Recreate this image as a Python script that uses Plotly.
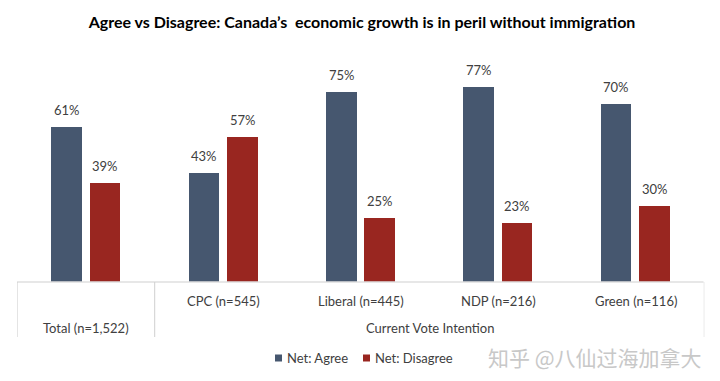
import plotly.graph_objects as go

categories = ["Total (n=1,522)", "CPC (n=545)", "Liberal (n=445)", "NDP (n=216)", "Green (n=116)"]
agree = [61, 43, 75, 77, 70]
disagree = [39, 57, 25, 23, 30]
series_names = ["Net: Agree", "Net: Disagree"]
group_label = "Current Vote Intention"
title_text = "Agree vs Disagree: Canada’s  economic growth is in peril without immigration"
watermark = "知乎 @八仙过海加拿大"

W, H = 720, 381
FONT = "Lato, 'Open Sans', sans-serif"
C_AGREE = "#46576f"
C_DIS = "#992620"
TXT = "#404040"
LINE = "#cfcfcf"

x = list(range(len(categories)))
bw = 0.222
gap = 0.029

fig = go.Figure()
fig.add_trace(go.Bar(x=x, y=agree, name=series_names[0], marker=dict(color=C_AGREE, line=dict(width=0)),
                     width=bw, offset=-gap - bw, hoverinfo="y", showlegend=False))
fig.add_trace(go.Bar(x=x, y=disagree, name=series_names[1], marker=dict(color=C_DIS, line=dict(width=0)),
                     width=bw, offset=gap, hoverinfo="y", showlegend=False))

def py(p):  # pixel from top -> paper y
    return 1 - p / H

def px(p):
    return p / W

x_left, x_right = 17.3, 704.3
base_px, top_px = 281.5, 60.0
px_per = 2.53
ymax = (base_px - top_px) / px_per

annotations = []
for i in x:
    for vals, off in ((agree, -gap - bw / 2), (disagree, gap + bw / 2)):
        annotations.append(dict(x=i + off, y=vals[i], xref="x", yref="y", text=f"{vals[i]}%",
                                showarrow=False, xanchor="center", yanchor="bottom", yshift=7,
                                font=dict(family=FONT, size=13, color=TXT)))
for i, c in enumerate(categories):
    annotations.append(dict(x=i, y=py(328 if i == 0 else 300.5), xref="x", yref="paper", text=c,
                            showarrow=False, xanchor="center", yanchor="middle",
                            font=dict(family=FONT, size=13, color=TXT)))
annotations.append(dict(x=2.5, y=py(328), xref="x", yref="paper", text=group_label, showarrow=False,
                        xanchor="center", yanchor="middle", font=dict(family=FONT, size=13, color=TXT)))
annotations.append(dict(x=px(595), y=py(357), xref="paper", yref="paper", text=watermark, showarrow=False,
                        xanchor="center", yanchor="middle",
                        font=dict(family="'Noto Sans CJK SC', sans-serif", size=21, color="#c8c8c8")))

legend_items = [(series_names[0], C_AGREE, 275), (series_names[1], C_DIS, 363)]
shapes = []
for name, col, lx in legend_items:
    shapes.append(dict(type="rect", xref="paper", yref="paper", x0=px(lx), x1=px(lx + 7),
                       y0=py(361.5), y1=py(354.5), fillcolor=col, line=dict(width=0)))
    annotations.append(dict(x=px(lx + 10), y=py(358), xref="paper", yref="paper", text=name,
                            showarrow=False, xanchor="left", yanchor="middle",
                            font=dict(family=FONT, size=13, color=TXT)))

shapes.append(dict(type="line", xref="paper", yref="paper", x0=px(17), x1=px(703.5), y0=py(282), y1=py(282),
                   line=dict(color=LINE, width=1)))
for xv in (-0.5, 0.5, 4.5):
    shapes.append(dict(type="line", xref="x", yref="paper", x0=xv, x1=xv, y0=py(282), y1=py(337),
                       line=dict(color=LINE, width=1)))

fig.update_layout(
    width=W, height=H,
    margin=dict(l=0, r=0, t=0, b=0),
    paper_bgcolor="white", plot_bgcolor="white",
    title=dict(text=title_text, x=px(362), xanchor="center", y=py(22), yanchor="middle",
               yref="container", font=dict(family=FONT, size=16, color="#000000", weight="bold")),
    xaxis=dict(domain=[px(x_left), px(x_right)], range=[-0.5, 4.5], showticklabels=False,
               showgrid=False, zeroline=False, showline=False, ticks=""),
    yaxis=dict(domain=[py(base_px), py(top_px)], range=[0, ymax], visible=False),
    showlegend=False,
    annotations=annotations, shapes=shapes,
    bargap=0,
)

fig.write_html("out.html", config={"displayModeBar": False},
               post_script="document.body.style.margin='0';document.body.style.padding='0';document.body.style.overflow='hidden';")
